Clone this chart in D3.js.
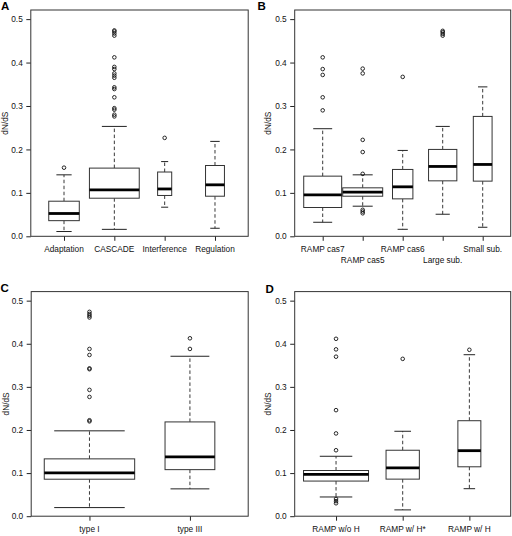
<!DOCTYPE html>
<html><head><meta charset="utf-8">
<script src="https://cdn.jsdelivr.net/npm/d3@7"></script>
<style>
html,body{margin:0;padding:0;background:#fff;}
text{font-family:"Liberation Sans",Arial,Helvetica,sans-serif;}
</style></head>
<body>
<svg id="chart" width="512" height="536"></svg>
<script>
// ---------- data ----------
const yTicks = [0.0, 0.1, 0.2, 0.3, 0.4, 0.5];
const yLabel = "dN/dS";

// Panel A
const catsA = ["Adaptation", "CASCADE", "Interference", "Regulation"];
const lowA  = [0.011, 0.016, 0.067, 0.0185];
const q1A   = [0.036, 0.0877, 0.094, 0.0923];
const medA  = [0.0525, 0.107, 0.109, 0.1185];
const q3A   = [0.0808, 0.157, 0.148, 0.163];
const highA = [0.1415, 0.253, 0.172, 0.2185];
const outA  = [[0.158],
  [0.276, 0.280, 0.2915, 0.295, 0.320, 0.339, 0.343, 0.365, 0.370, 0.375, 0.385, 0.390, 0.412, 0.462, 0.467, 0.4715, 0.474],
  [0.2266], []];
const nA    = [94, 250, 20, 36];

// Panel B
const catsB = ["RAMP cas7", "RAMP cas5", "RAMP cas6", "Large sub.", "Small sub."];
const lowB  = [0.0323, 0.0693, 0.0161, 0.0508, 0.0208];
const q1B   = [0.0663, 0.0923, 0.0862, 0.1277, 0.127];
const medB  = [0.0954, 0.1015, 0.1139, 0.1608, 0.1654];
const q3B   = [0.1385, 0.1116, 0.1539, 0.200, 0.276];
const highB = [0.2477, 0.1415, 0.1977, 0.253, 0.344];
const outB  = [[0.290, 0.320, 0.3715, 0.385, 0.412],
  [0.053, 0.057, 0.061, 0.1438, 0.194, 0.222, 0.375, 0.386],
  [0.367],
  [0.462, 0.466, 0.470, 0.473],
  []];
const nB    = [90, 100, 26, 50, 22];

// Panel C
const catsC = ["type I", "type III"];
const lowC  = [0.020, 0.0634];
const q1C   = [0.0858, 0.108];
const medC  = [0.1005, 0.1376];
const q3C   = [0.133, 0.2187];
const highC = [0.198, 0.371];
const outC  = [[0.220, 0.2226, 0.2767, 0.293, 0.341, 0.343, 0.374, 0.388, 0.461, 0.465, 0.469, 0.474],
  [0.388, 0.4127]];
const nC    = [300, 91];

// Panel D
const catsD = ["RAMP w/o H", "RAMP w/ H*", "RAMP w/ H"];
const lowD  = [0.0446, 0.0146, 0.0638];
const q1D   = [0.0815, 0.086, 0.1146];
const medD  = [0.097, 0.112, 0.152];
const q3D   = [0.106, 0.153, 0.2215];
const highD = [0.139, 0.197, 0.3746];
const outD  = [[0.030, 0.035, 0.040, 0.153, 0.192, 0.246, 0.370, 0.387, 0.4115],
  [0.365], [0.386]];
const nD    = [160, 42, 20];

// ---------- layout ----------
const panels = [
  {letter:"A", cats:catsA, low:lowA, q1:q1A, med:medA, q3:q3A, high:highA, out:outA, n:nA,
   left:30.8, right:248.2, top:10, bottom:236.3, wf:0.99, cap:0.5, rows:1, lx:1, ly:10, ylx:7.5},
  {letter:"B", cats:catsB, low:lowB, q1:q1B, med:medB, q3:q3B, high:highB, out:outB, n:nB,
   left:294.7, right:510.7, top:10, bottom:236.3, wf:1.0, cap:0.5, rows:2, lx:257.5, ly:10, ylx:270.5},
  {letter:"C", cats:catsC, low:lowC, q1:q1C, med:medC, q3:q3C, high:highC, out:outC, n:nC,
   left:31.2, right:248.2, top:291.6, bottom:516.2, wf:0.9, cap:0.78, rows:1, lx:0.5, ly:291.5, ylx:8.5},
  {letter:"D", cats:catsD, low:lowD, q1:q1D, med:medD, q3:q3D, high:highD, out:outD, n:nD,
   left:294.7, right:510.7, top:291.6, bottom:516.2, wf:0.975, cap:0.5, rows:1, lx:265.5, ly:293, ylx:270.5}
];

const svg = d3.select("#chart");
const FS = 8.3;
const lineCol = "#222";

panels.forEach(p => {
  const k = p.cats.length;
  const ext = 0.04 * k;
  const x = d3.scaleLinear().domain([0.5 - ext, k + 0.5 + ext]).range([p.left, p.right]);
  const y = d3.scaleLinear().domain([0, 0.521]).range([p.bottom, p.top]);
  const unit = x(2) - x(1);
  const maxN = d3.max(p.n);
  const g = svg.append("g");

  // y axis
  const ya = g.append("g").attr("transform", `translate(${p.left},0)`)
    .call(d3.axisLeft(y).tickValues(yTicks).tickFormat(d3.format(".1f")).tickSize(4.5).tickPadding(3.5));
  ya.select(".domain").attr("stroke", lineCol).attr("d", `M-4.5,${y(0)}H0V${y(0.5)}H-4.5`).attr("stroke", "none");
  ya.selectAll(".tick line").attr("stroke", lineCol);
  ya.selectAll(".tick text").attr("font-size", FS).attr("fill", "#111")
    .attr("font-family", "Liberation Sans, Arial, sans-serif");

  // x axis
  const xa = g.append("g").attr("transform", `translate(0,${p.bottom})`)
    .call(d3.axisBottom(x).tickValues(d3.range(1, k + 1)).tickFormat("").tickSize(4.5));
  xa.select(".domain").attr("stroke", "none");
  xa.selectAll(".tick line").attr("stroke", lineCol);
  g.selectAll(".xlab").data(p.cats).join("text")
    .attr("x", (d, i) => x(i + 1))
    .attr("y", (d, i) => p.bottom + 15.5 + (p.rows === 2 && i % 2 === 1 ? 11 : 0))
    .attr("text-anchor", "middle").attr("font-size", FS).attr("fill", "#111")
    .text(d => d);

  // frame
  g.append("rect").attr("x", p.left).attr("y", p.top)
    .attr("width", p.right - p.left).attr("height", p.bottom - p.top)
    .attr("fill", "none").attr("stroke", "#333").attr("stroke-width", 1);

  // y label
  const yc = (p.top + p.bottom) / 2;
  g.append("text").attr("transform", `translate(${p.ylx},${yc}) rotate(-90)`)
    .attr("text-anchor", "middle").attr("font-size", FS).attr("fill", "#111").text(yLabel);

  // panel letter
  g.append("text").attr("x", p.lx).attr("y", p.ly).attr("font-size", 11.5)
    .attr("font-weight", "bold").attr("fill", "#000").text(p.letter);

  // boxes
  p.cats.forEach((c, i) => {
    const cx = x(i + 1);
    const w = unit * p.wf * Math.sqrt(p.n[i] / maxN);
    const hw = w / 2;
    const cw = hw * p.cap;
    const bg = g.append("g");
    // whiskers
    bg.append("line").attr("x1", cx).attr("x2", cx).attr("y1", y(p.q3[i])).attr("y2", y(p.high[i]))
      .attr("stroke", lineCol).attr("stroke-dasharray", "3.5,2.5").attr("stroke-width", 0.9);
    bg.append("line").attr("x1", cx).attr("x2", cx).attr("y1", y(p.q1[i])).attr("y2", y(p.low[i]))
      .attr("stroke", lineCol).attr("stroke-dasharray", "3.5,2.5").attr("stroke-width", 0.9);
    // caps
    [p.high[i], p.low[i]].forEach(v => {
      bg.append("line").attr("x1", cx - cw).attr("x2", cx + cw).attr("y1", y(v)).attr("y2", y(v))
        .attr("stroke", lineCol).attr("stroke-width", 1);
    });
    // box
    bg.append("rect").attr("x", cx - hw).attr("y", y(p.q3[i]))
      .attr("width", w).attr("height", y(p.q1[i]) - y(p.q3[i]))
      .attr("fill", "#fff").attr("stroke", "#333").attr("stroke-width", 1);
    // median
    bg.append("line").attr("x1", cx - hw).attr("x2", cx + hw).attr("y1", y(p.med[i])).attr("y2", y(p.med[i]))
      .attr("stroke", "#000").attr("stroke-width", 2.8);
    // outliers
    bg.selectAll("circle").data(p.out[i]).join("circle")
      .attr("cx", cx).attr("cy", d => y(d)).attr("r", 1.8)
      .attr("fill", "none").attr("stroke", "#111").attr("stroke-width", 0.9);
  });
});
</script>
</body></html>
